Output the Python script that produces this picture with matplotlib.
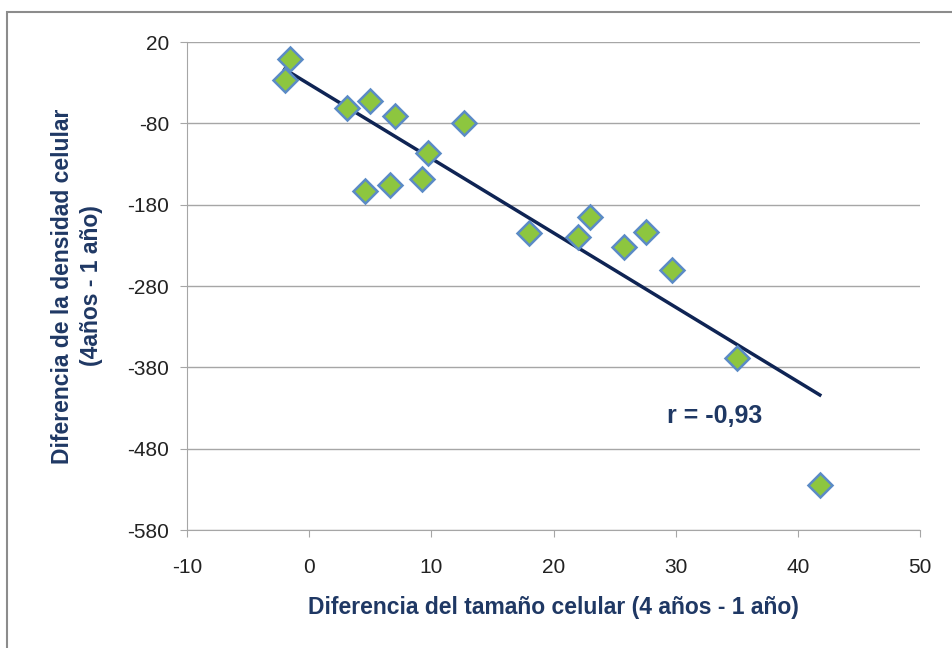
import numpy as np
import matplotlib.pyplot as plt
from matplotlib.patches import Rectangle

# diferencias (4 años - 1 año)
tamano = [-1.6, -2.0, 3.1, 5.0, 7.0, 12.7, 9.7, 4.6, 6.6, 9.2,
          18.0, 22.0, 23.0, 25.8, 27.6, 29.7, 35.0, 41.8]
densidad = [-1, -27, -61, -53, -71, -80, -117, -163, -156, -148,
            -215, -220, -195, -232, -214, -260, -369, -525]
r_label = "r = -0,93"

navy = "#1F3864"
plt.rcParams['font.family'] = ['Liberation Sans', 'DejaVu Sans']
plt.rcParams['axes.unicode_minus'] = False

fig = plt.figure(figsize=(9.53, 6.48), dpi=100)
# marco gris del gráfico (solo se ven los bordes superior e izquierdo)
fig.patches.append(Rectangle((7/953, -0.05), 1.0, 1 - 12/648 + 0.05,
                             transform=fig.transFigure, fill=False,
                             edgecolor="#8C8C8C", linewidth=1.5))
ax = fig.add_axes([187/953, 1 - 530/648, 733/953, 488/648])

x = np.array(tamano)
y = np.array(densidad)
m, b = np.polyfit(x, y, 1)
xl = np.array([x.min(), x.max()])
ax.plot(xl, m * xl + b, color="#0F2454", lw=2.5, zorder=2)
ax.plot(x, y, linestyle="none", marker="D", markersize=12,
        markerfacecolor="#8DC63F", markeredgecolor="#5B8BC6",
        markeredgewidth=1.8, zorder=3)

ax.set_xlim(-10, 50)
ax.set_ylim(-580, 20)
ax.set_xticks(range(-10, 51, 10))
ax.set_yticks(range(20, -581, -100))
ax.yaxis.grid(True, color="#A6A6A6", lw=1)
ax.set_axisbelow(True)
for s in ["top", "right"]:
    ax.spines[s].set_visible(False)
for s in ["left", "bottom"]:
    ax.spines[s].set_color("#A6A6A6")
ax.tick_params(colors="#A6A6A6", labelcolor="#222222", labelsize=15,
               length=5, direction="out")
ax.tick_params(axis="x", pad=15)
ax.tick_params(axis="y", pad=8)

ax.set_xlabel("Diferencia del tamaño celular (4 años - 1 año)",
              fontsize=16.5, fontweight="bold", color=navy, labelpad=14)
ax.set_ylabel("Diferencia de la densidad celular\n(4años - 1 año)",
              fontsize=16.5, fontweight="bold", color=navy, labelpad=17,
              linespacing=1.35)

ax.text(29.3, -440, r_label, fontsize=18, fontweight="bold", color=navy,
        va="center")

fig.savefig("out.png", dpi=100)
